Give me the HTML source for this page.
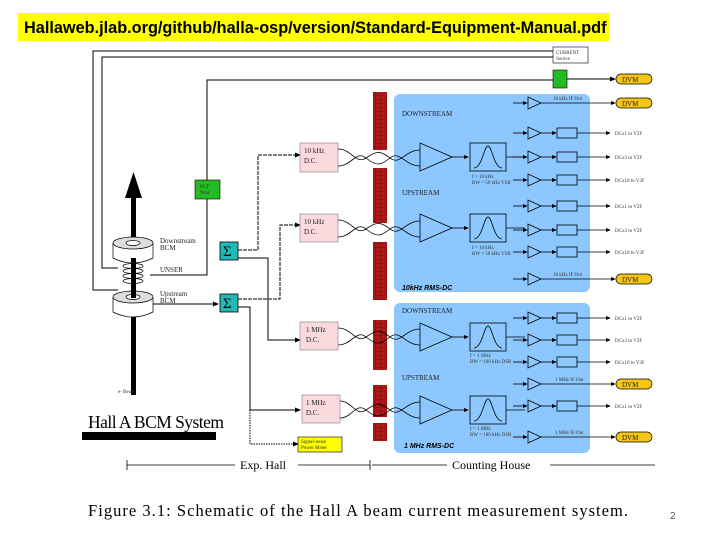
<!DOCTYPE html>
<html><head><meta charset="utf-8"><style>
body{margin:0;background:#fff}
svg{display:block}
text{font-family:"Liberation Serif",serif}
.s{font-size:5px;fill:#333}
.m{font-size:7px;fill:#222}
</style></head><body>
<svg width="720" height="540" viewBox="0 0 720 540" xmlns="http://www.w3.org/2000/svg">
<defs>
<marker id="a" markerWidth="6" markerHeight="6" refX="5" refY="3" orient="auto"><path d="M0,0.5L6,3L0,5.5z" fill="#000"/></marker>
<pattern id="br" width="6" height="4" patternUnits="userSpaceOnUse"><rect width="6" height="4" fill="#b01818"/><path d="M0,3.5H6M3,0V3.5" stroke="#701010" stroke-width="0.6"/></pattern>
<g id="rms" fill="none" stroke="#000" stroke-width="0.8"><path d="M513,0H527" marker-end="url(#a)"/><path d="M528,-6V6L541,0z"/><path d="M541,0H556" marker-end="url(#a)"/><rect x="557" y="-5" width="20" height="10"/><path d="M577,0H610" marker-end="url(#a)"/></g>
<g id="if" fill="none" stroke="#000" stroke-width="0.8"><path d="M513,0H527" marker-end="url(#a)"/><path d="M528,-6V6L541,0z"/><path d="M541,0H615" marker-end="url(#a)"/></g>
</defs>
<!-- banner -->
<rect x="18" y="13" width="591" height="28" fill="#ffff00"/>
<text x="24" y="33" style="font-family:'Liberation Sans',sans-serif;font-size:16.3px;font-weight:bold" fill="#000">Hallaweb.jlab.org/github/halla-osp/version/Standard-Equipment-Manual.pdf</text>

<rect x="394" y="94" width="196" height="198" rx="6" fill="#8cc8ff"/>
<rect x="394" y="303" width="196" height="150" rx="6" fill="#8cc8ff"/>

<g fill="url(#br)">
<rect x="373" y="92" width="14" height="58"/><rect x="373" y="168" width="14" height="55"/>
<rect x="373" y="242" width="14" height="58"/><rect x="373" y="320" width="14" height="50"/>
<rect x="373" y="385" width="14" height="32"/><rect x="373" y="423" width="14" height="18"/>
</g>

<g fill="none" stroke="#000" stroke-width="1">
<path d="M553,51H93V290H118" /><path d="M553,57H102V268H118"/>
<path d="M553,80H207V180"/><path d="M207,199V275H150"/>
<path d="M567,79H615" marker-end="url(#a)"/>
<path d="M238,250H258V155H300" stroke-dasharray="4,1" marker-end="url(#a)"/>
<path d="M238,258H268V340H300" marker-end="url(#a)"/>
<path d="M238,299H280V225H300" stroke-dasharray="4,1" marker-end="url(#a)"/>
<path d="M238,307H250V410H300" marker-end="url(#a)"/>
<path d="M250,410V444H298" stroke-dasharray="1.5,1" marker-end="url(#a)"/>
<path d="M150,304H218" marker-end="url(#a)"/>
</g>
<rect x="553" y="47" width="35" height="16" fill="#fff" stroke="#000" stroke-width="0.6"/>
<text x="556" y="54" class="s">CURRENT</text><text x="556" y="60" class="s">Source</text>
<rect x="553" y="70" width="14" height="18" fill="#22bb22" stroke="#000" stroke-width="0.6"/>
<rect x="195" y="180" width="25" height="19" fill="#22bb22" stroke="#000" stroke-width="0.6"/>
<text x="200" y="188" class="s">PCT</text><text x="200" y="194" class="s">float</text>

<g fill="#22b8b8" stroke="#000" stroke-width="0.8">
<rect x="220" y="242" width="18" height="18"/><rect x="220" y="294" width="18" height="18"/></g>
<text x="223" y="256" style="font-size:15px">Σ</text><text x="223" y="308" style="font-size:15px">Σ</text>

<rect x="131" y="195" width="5" height="200" fill="#000"/>
<path d="M125,198L133.5,172L142,198z" fill="#000"/>
<g stroke="#000" stroke-width="0.7">
<path d="M113,243V258Q133,268 153,258V243" fill="#fff"/>
<ellipse cx="133" cy="243" rx="20" ry="6" fill="#ddd"/><ellipse cx="133" cy="243" rx="7" ry="2.5" fill="#fff"/>
<path d="M113,297V312Q133,322 153,312V297" fill="#fff"/>
<ellipse cx="133" cy="297" rx="20" ry="6" fill="#ddd"/><ellipse cx="133" cy="297" rx="7" ry="2.5" fill="#fff"/>
<g fill="none"><ellipse cx="133" cy="266" rx="10" ry="2.5"/><ellipse cx="133" cy="271" rx="10" ry="2.5"/><ellipse cx="133" cy="276" rx="10" ry="2.5"/><ellipse cx="133" cy="281" rx="10" ry="2.5"/></g>
</g>
<rect x="131" y="258" width="5" height="40" fill="#000"/>
<text x="160" y="243" class="m">Downstream</text><text x="160" y="250" class="m">BCM</text>
<text x="160" y="272" class="m">UNSER</text>
<text x="160" y="296" class="m">Upstream</text><text x="160" y="303" class="m">BCM</text>
<text x="118" y="393" class="s">e- Beam</text>
<text x="88" y="428" style="font-size:17.5px" textLength="136">Hall A BCM System</text>
<rect x="82" y="432" width="134" height="8" fill="#000"/>

<g fill="#fadadd" stroke="#666" stroke-width="0.5">
<rect x="300" y="143" width="38" height="29"/><rect x="300" y="214" width="38" height="28"/>
<rect x="300" y="322" width="38" height="28"/><rect x="302" y="395" width="38" height="28"/></g>
<text x="304" y="153" class="m">10 kHz</text><text x="304" y="163" class="m">D.C.</text>
<text x="304" y="224" class="m">10 kHz</text><text x="304" y="234" class="m">D.C.</text>
<text x="306" y="332" class="m">1 MHz</text><text x="306" y="342" class="m">D.C.</text>
<text x="306" y="405" class="m">1 MHz</text><text x="306" y="415" class="m">D.C.</text>
<rect x="298" y="437" width="44" height="15" fill="#ffff00" stroke="#000" stroke-width="0.6"/>
<text x="301" y="443" class="s">Signal-noise</text><text x="301" y="449" class="s">Power Meter</text>

<g fill="none" stroke="#000" stroke-width="0.8">
<path d="M338,149C352,149 356,165 366,158S380,150 390,158S405,150 420,150"/><path d="M338,166C352,166 356,150 366,158S380,166 390,158S405,166 420,166"/>
<path d="M338,220C352,220 356,236 366,229S380,221 390,229S405,221 420,221"/><path d="M338,237C352,237 356,221 366,229S380,237 390,229S405,237 420,237"/>
<path d="M338,328C352,328 356,344 366,337S380,329 390,337S405,329 420,329"/><path d="M338,345C352,345 356,329 366,337S380,345 390,337S405,345 420,345"/>
<path d="M340,401C352,401 356,417 366,410S380,402 390,410S405,402 420,402"/><path d="M340,418C352,418 356,402 366,410S380,418 390,410S405,418 420,418"/>
</g>

<g fill="none" stroke="#000" stroke-width="0.8">
<path d="M420,143V171L452,157z"/><path d="M452,157H468" marker-end="url(#a)"/><rect x="470" y="143" width="36" height="28"/>
<path d="M474,168C482,168 484,146 488,146S494,168 502,168"/>
<path d="M420,214V242L452,228z"/><path d="M452,228H468" marker-end="url(#a)"/><rect x="470" y="214" width="36" height="28"/>
<path d="M474,239C482,239 484,217 488,217S494,239 502,239"/>
<path d="M420,323V351L452,337z"/><path d="M452,337H468" marker-end="url(#a)"/><rect x="470" y="323" width="36" height="28"/>
<path d="M474,348C482,348 484,326 488,326S494,348 502,348"/>
<path d="M420,396V424L452,410z"/><path d="M452,410H468" marker-end="url(#a)"/><rect x="470" y="396" width="36" height="28"/>
<path d="M474,421C482,421 484,399 488,399S494,421 502,421"/>
<path d="M506,157H525M506,228H525M506,337H525M506,410H525"/>
</g>
<g class="s">
<text x="472" y="178">f = 10 kHz</text><text x="472" y="184">BW = 50 kHz VSB</text>
<text x="472" y="249">f = 10 kHz</text><text x="472" y="255">BW = 50 kHz VSB</text>
<text x="470" y="357">f = 1 MHz</text><text x="470" y="363">BW = 100 kHz DSB</text>
<text x="470" y="430">f = 1 MHz</text><text x="470" y="436">BW = 100 kHz DSB</text>
</g>
<text x="402" y="116" class="m">DOWNSTREAM</text><text x="402" y="195" class="m">UPSTREAM</text>
<text x="402" y="290" style="font-family:'Liberation Sans',sans-serif;font-size:7px;font-style:italic;font-weight:bold">10kHz RMS-DC</text>
<text x="402" y="313" class="m">DOWNSTREAM</text><text x="402" y="380" class="m">UPSTREAM</text>
<text x="404" y="448" style="font-family:'Liberation Sans',sans-serif;font-size:7px;font-style:italic;font-weight:bold">1 MHz RMS-DC</text>

<use href="#rms" y="133"/><use href="#rms" y="157"/><use href="#rms" y="180"/>
<use href="#rms" y="206"/><use href="#rms" y="230"/><use href="#rms" y="252"/>
<use href="#rms" y="318"/><use href="#rms" y="340"/><use href="#rms" y="362"/><use href="#rms" y="406"/>
<use href="#if" y="103"/><use href="#if" y="279"/><use href="#if" y="384"/><use href="#if" y="437"/>

<g fill="#f5c518" stroke="#000" stroke-width="0.7">
<rect x="616" y="74" width="36" height="10" rx="5"/><rect x="616" y="98" width="36" height="10" rx="5"/>
<rect x="616" y="274" width="36" height="10" rx="5"/><rect x="616" y="379" width="36" height="10" rx="5"/><rect x="616" y="432" width="36" height="10" rx="5"/></g>
<g class="m"><text x="622" y="82">DVM</text><text x="622" y="106">DVM</text><text x="622" y="282">DVM</text><text x="622" y="387">DVM</text><text x="622" y="440">DVM</text></g>
<g class="s">
<text x="553" y="100">10 kHz IF  Out</text><text x="553" y="276">10 kHz IF  Out</text><text x="555" y="381">1 MHz IF  Out</text><text x="555" y="434">1 MHz IF  Out</text>
<text x="615" y="135">DCx1 to V2F</text><text x="615" y="159">DCx3 to V2F</text><text x="615" y="182">DCx10 to V2F</text>
<text x="615" y="208">DCx1 to V2F</text><text x="615" y="232">DCx3 to V2F</text><text x="615" y="254">DCx10 to V2F</text>
<text x="615" y="320">DCx1 to V2F</text><text x="615" y="342">DCx3 to V2F</text><text x="615" y="364">DCx10 to V2F</text><text x="615" y="408">DCx1 to V2F</text>
</g>

<g stroke="#000" stroke-width="0.8" fill="none">
<path d="M127,465H235M298,465H370M127,460V470M370,460V470M372,465H447M550,465H655"/></g>
<text x="240" y="469" style="font-size:12px">Exp. Hall</text>
<text x="452" y="469" style="font-size:12px">Counting House</text>
<text x="88" y="516" style="font-size:16.5px" textLength="540">Figure 3.1:  Schematic of the Hall A  beam current measurement system.</text>
<text x="670" y="519" style="font-family:'Liberation Sans',sans-serif;font-size:10px" fill="#555">2</text>
</svg>
</body></html>
